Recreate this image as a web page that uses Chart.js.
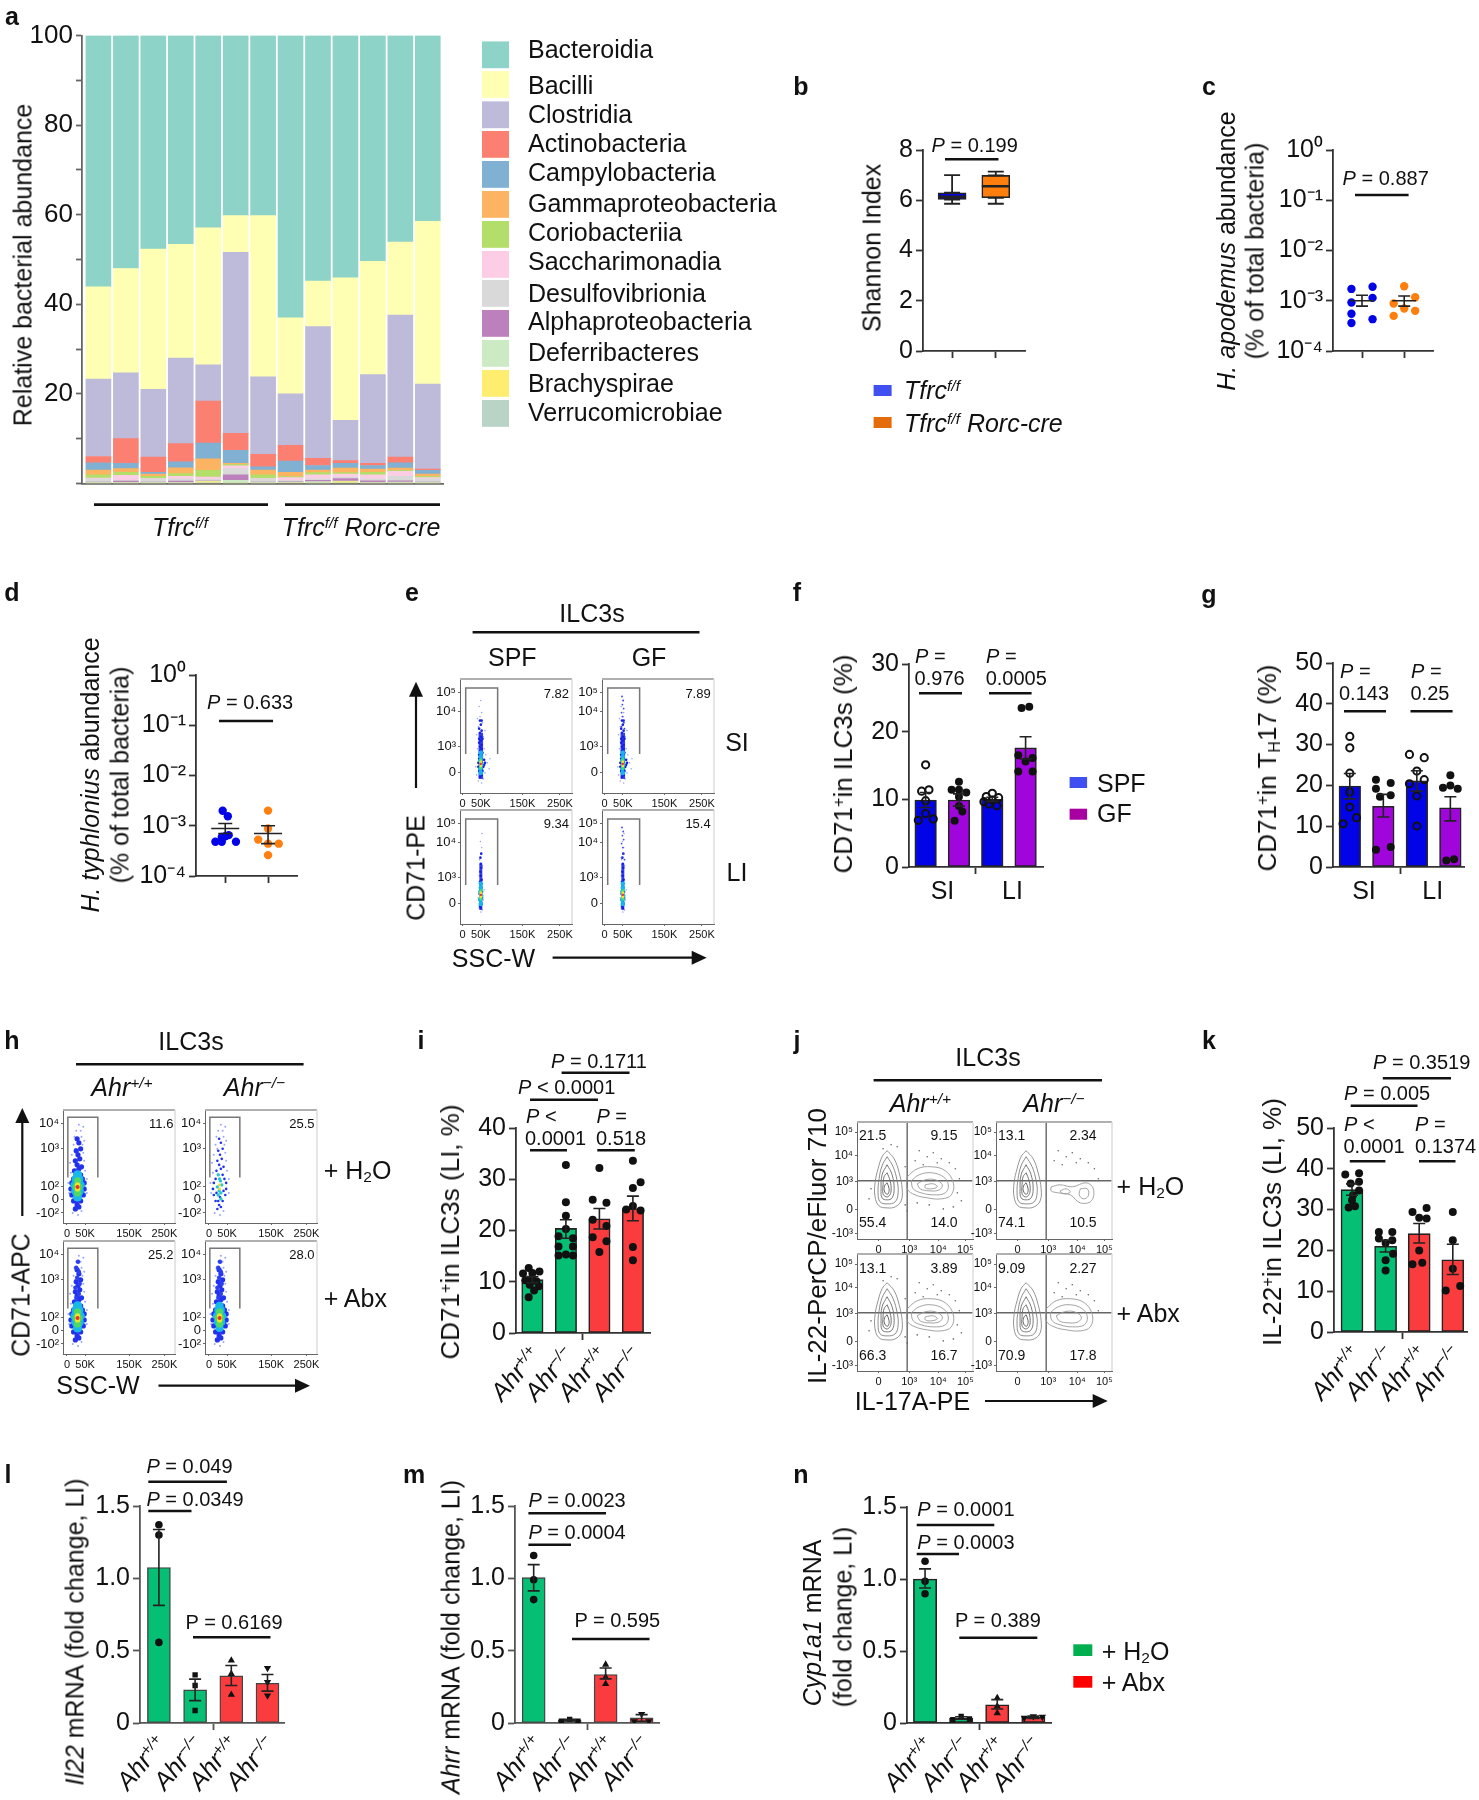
<!DOCTYPE html>
<html><head><meta charset="utf-8">
<script src="https://cdn.jsdelivr.net/npm/chart.js@4"></script>
<style>
html,body{margin:0;padding:0;background:#fff}
#stage{position:relative;width:1479px;height:1800px;overflow:hidden;font-family:"Liberation Sans",Arial,sans-serif;color:#111;filter:blur(.35px)}
#stage canvas{position:absolute}
#over{position:absolute;left:0;top:0}
.t{position:absolute;white-space:nowrap;line-height:1}
.t sup{font-size:.62em;line-height:0;vertical-align:baseline;position:relative;top:-.5em}
.t sub{font-size:.62em;line-height:0;vertical-align:baseline;position:relative;top:.22em}
</style></head><body><div id="stage"><svg id="over" width="1479" height="1800"></svg></div>
<script>
/* ---------- a: stacked relative abundance ---------- */
const aSamples=['1','2','3','4','5','6','7','8','9','10','11','12','13'];
const aClasses=['Bacteroidia','Bacilli','Clostridia','Actinobacteria','Campylobacteria','Gammaproteobacteria','Coriobacteriia','Saccharimonadia','Desulfovibrionia','Alphaproteobacteria','Deferribacteres','Brachyspirae','Verrucomicrobiae'];
const aColors=['#8dd3c7','#ffffb3','#bebada','#fb8072','#80b1d3','#fdb462','#b3de69','#fccde5','#d9d9d9','#bc80bd','#ccebc5','#ffed6f','#b9d4c7'];
const aBacteroidia=[56.1,52,47.7,46.6,42.9,40.2,40.2,63,54.8,54.1,50.4,46.1,41.5];
const aBacilli=[20.6,23.3,31.3,25.4,30.6,8.2,36,17,10.2,31.8,25.3,16.3,36.3];
const aClostridia=[17.3,14.7,15.1,19.1,8.1,40.4,17.3,11.5,29.4,9,19.8,31.7,19];
const aActino=[1.4,5.5,3.4,4.1,9.4,3.8,2.8,3.5,1.6,.6,.5,1.3,.3];
const aCampy=[1.6,1.2,.4,1.3,3.5,2.9,.7,2.5,1,1.1,.8,1.2,.8];
const aGamma=[1.1,.8,.5,1.3,2.6,.3,1.1,1,.6,1,.7,.5,.5];
const aCorio=[.7,.7,.5,.6,1.5,.3,.8,.2,.5,.3,.6,.2,.3];
const aSaccha=[.2,1.1,.1,.6,.5,.6,.1,.6,.9,.7,.9,1.1,.3];
const aDesulfo=[.7,.2,.7,.5,.3,1.4,.7,.3,.3,.3,.4,1,.7];
const aAlpha=[.1,.3,.1,.3,.1,1.2,.1,.1,.3,.6,.4,.3,.1];
const aDeferri=[.1,.1,.1,.1,.1,.6,.1,.1,.3,.1,.1,.2,.1];
const aBrachy=[0,0,0,0,.3,0,0,.1,0,.3,0,0,0];
const aVerruco=[.1,.1,.1,.1,.1,.1,.1,.1,.1,.1,.1,.1,.1];
const aTicks=[0,10,20,30,40,50,60,70,80,90,100];
/* ---------- b: box plot ---------- */
const bGroups=['Tfrc f/f','Tfrc f/f Rorc-cre'];
const bMin=[5.86,5.86],bQ1=[6.03,6.1],bMed=[6.14,6.56],bQ3=[6.3,6.99],bMax=[7.0,7.14];
const bTicks=[0,2,4,6,8];
/* ---------- c, d: log dot plots [jitter,value] ---------- */
const logTicks=[1e-4,1e-3,1e-2,1e-1,1];
const logLabels=['10⁻⁴','10⁻³','10⁻²','10⁻¹','10⁰'];
const cDots=[[[-.25,1.72e-3],[.25,1.9e-3],[-.25,9.2e-4],[.25,1.14e-3],[-.25,5.5e-4],[.25,4.3e-4],[-.25,3.6e-4]],
 [[0,1.95e-3],[.26,1.17e-3],[-.25,8.8e-4],[0,7e-4],[.26,6.3e-4],[-.25,5e-4]]];
const cMean=[1e-3,1e-3],cHi=[1.29e-3,1.24e-3],cLo=[7.8e-4,7.8e-4];
const dDots=[[[-.06,1.99e-3],[.06,1.55e-3],[.08,6.5e-4],[0,6.2e-4],[-.08,6e-4],[-.23,4.8e-4],[-.08,4.8e-4],[.25,4.8e-4]],
 [[0,2e-3],[0,8.8e-4],[-.23,5.3e-4],[.25,4.4e-4],[0,4.4e-4],[0,2.6e-4]]];
const dMean=[8.8e-4,7e-4],dHi=[1.11e-3,1.0e-3],dLo=[7e-4,4.4e-4];
/* ---------- bar panels ---------- */
const fCats=['SPF SI','GF SI','SPF LI','GF LI'];
const fMeans=[9.9,9.9,10,17.6],fHi=[11,10.8,10.3,19.25],fLo=[8.8,9,9.7,15.95],fTicks=[0,10,20,30];
const fDots=[[[0,15.1],[.1,11.4],[-.12,11.2],[0,9.8],[0,7.9],[-.22,6.9],[.23,7.1]],
 [[0,12.6],[-.22,11.4],[0,11.4],[.22,11],[0,10.4],[0,9],[.1,8.2],[-.13,6.85]],
 [[0,10.9],[-.18,10.4],[.19,10.25],[-.25,9.65],[0,9.9],[.14,9.05],[-.1,9.3]],
 [[-.12,23.5],[.11,23.7],[-.22,16.5],[.21,16.1],[0,15.6],[-.22,14.1],[.21,14.1]]];
const gMeans=[19.85,14.9,21.1,14.5],gHi=[22.9,17.8,23.6,17.2],gLo=[16.7,12.25,18.6,11.3],gTicks=[0,10,20,30,40,50];
const gDots=[[[0,32],[0,29.2],[0,23],[0,18.4],[0,14.7],[.2,12.1],[-.2,10.6]],
 [[-.22,21.4],[.22,20.6],[-.22,19.2],[.22,17.6],[-.1,17.2],[-.22,4.25],[.22,4.9]],
 [[-.22,27.6],[.22,26.8],[0,23.5],[-.22,20.4],[.22,21.4],[0,17.4],[0,10.05]],
 [[0,22.5],[-.22,19.4],[.22,19.2],[0,20],[-.12,1.6],[.11,1.9]]];
const ahrCats=['+/+','−/−','+/+','−/−'];
const iMeans=[10.4,20.4,22.3,24.3],iHi=[11,22.1,24.3,26.7],iLo=[9.8,18.5,20.3,21.9],iTicks=[0,10,20,30,40];
const iDots=[[[-.11,12.7],[.21,12],[-.28,11.6],[-.01,10.7],[-.21,10.3],[.12,10.1],[-.08,9.4],[.19,9.1],[.05,8.3],[-.11,7],[0,11.7]],
 [[0,32.8],[0,25.5],[0,22.9],[0,20.3],[-.22,18.9],[.21,18.5],[-.22,16.9],[.21,16.9],[-.22,15.1],[0,15.3],[.21,15.1]],
 [[0,32.2],[-.2,26],[.21,25.4],[-.2,22.1],[.21,20.9],[-.2,18.7],[.21,17.9],[0,15.8]],
 [[0,33.6],[.23,29.4],[0,28.3],[0,24.8],[-.2,24.1],[.23,23.9],[0,16.8],[0,14.2]]];
const kMeans=[34.9,21,24.1,17.7],kHi=[36.3,22.5,26.6,21.5],kLo=[33.5,19.6,21.8,14.1],kTicks=[0,10,20,30,40,50];
const kDots=[[[-.2,38.6],[.21,38.9],[.21,36.8],[-.04,36.4],[.21,34.7],[.03,33.5],[-.1,30.5],[.09,30.8],[0,32.3]],
 [[-.2,24.5],[.2,24.5],[-.2,22.9],[.2,22.5],[0,21.8],[.22,19.2],[0,17.6],[0,15.1]],
 [[-.2,29.4],[.22,30.4],[0,28],[.22,27.8],[0,20],[-.2,16.6],[.09,17]],
 [[0,29.4],[0,22.5],[0,15.5],[-.21,10.2],[.22,11.3]]];
const foldTicks=[0,.5,1,1.5],foldLabels=['0','0.5','1.0','1.5'];
const lMeans=[1.075,.229,.326,.275],lHi=[1.338,.303,.397,.335],lLo=[.813,.155,.259,.22];
const lDots=[[[0,1.37],[0,1.3],[0,.557]],[[0,.333],[0,.259],[0,.086]],[[0,.432],[0,.34],[0,.196]],[[0,.379],[0,.282],[0,.19]]];
const mMeans=[1.005,.02,.335,.035],mHi=[1.095,.025,.38,.058],mLo=[.913,.015,.305,.012];
const mDots=[[[0,1.158],[0,.99],[0,.853]],[[-.23,.012],[0,.025],[.23,.012]],[[0,.404],[0,.317],[0,.27]],[[0,.062],[-.2,.012],[.2,.012]]];
const nMeans=[1,.035,.127,.04],nHi=[1.07,.043,.162,.048],nLo=[.937,.027,.097,.032];
const nDots=[[[0,1.123],[0,.984],[0,.898]],[[-.23,.023],[0,.046],[.23,.028]],[[0,.174],[0,.116],[0,.069]],[[-.25,.035],[0,.046],[.25,.042]]];
/* ---------- e: flow plots ---------- */
const eXTicks=[6,50,150,240],eXLabels=['0','50K','150K','250K'];
const eYTicks=[20,46,81,100],eYLabels=['0','10³','10⁴','10⁵'];
const eGate=[[13.7,38.7],[13.7,104.4],[90.4,104.4],[90.4,38.7]];
const eSiFaint=[[44,12],[56,14],[52,10],[40,18],[60,20],[38,26],[70,24],[66,30],[72,34],[62,38],[58,44],[42,44],[46,52],[56,56],[40,58],[60,62],[44,66],[54,70],[48,76],[42,74],[52,80],[46,86],[50,92]];
const eSiBlue=[[48,16],[52,18],[50,20],[46,22],[54,22],[50,24],[56,26],[44,26],[58,28],[44,30],[60,30],[58,33],[46,34],[52,36],[46,38],[54,40],[48,42],[52,44],[48,46],[52,48],[46,50],[50,52],[54,54],[46,54],[50,56],[48,60],[52,62],[46,64],[50,68],[52,72],[48,72]];
const eLiFaint=[[50,12],[54,14],[46,16],[56,24],[44,26],[58,34],[54,40],[46,48],[54,58],[47,64],[52,76],[49,82],[53,90]];
const eLiBlue=[[50,16],[48,18],[52,20],[50,22],[47,24],[53,26],[50,28],[47,30],[53,32],[49,34],[51,36],[50,40],[48,42],[52,44],[50,48],[49,52],[51,56],[50,60],[49,66],[51,70]];
const eGfExtra=[[50,76],[47,80],[52,84],[49,88],[51,92],[48,96],[52,70],[47,66],[54,64]];
const eSpine=[[50,14],[50,60]];
const eCyan=[[50,20],[49,24],[51,28],[49,32],[50,36],[50,40]],eGreen=[[50,25],[50,29],[50,33]],eYellow=[[50,27],[50,31]],eRed=[[50,29]];
const ePcts=['7.82','7.89','9.34','15.4'];
/* ---------- h: flow plots ---------- */
const hXTicks=[9,50,150,230],hXLabels=['0','50K','150K','250K'];
const hYTicks=[10,23.7,36,74.7,99.7],hYLabels=['-10²','0','10²','10³','10⁴'];
const hGate=[[11,45.4],[11,105.4],[79,105.4],[79,45.4]];
const hFaint=[[22,10],[42,12],[34,8],[14,30],[54,30],[12,40],[54,44],[18,50],[50,52],[16,60],[48,62],[20,68],[46,70],[24,78],[44,78],[26,86],[42,86],[30,92],[40,92],[36,98],[46,96],[28,74],[48,82]];
const hBlue=[[28,14],[36,16],[32,18],[24,22],[40,22],[30,22],[20,28],[46,28],[34,26],[18,34],[48,34],[26,30],[42,32],[20,40],[48,40],[24,44],[44,44],[30,48],[40,48],[26,52],[36,54],[32,58],[42,56],[28,62],[38,64],[34,68],[30,72],[40,74],[36,80],[32,84]];
const hTall=[[30,56],[36,60],[28,66],[38,70],[32,76],[36,82],[30,86],[34,92]];
const hCyan=[[33,26],[29,32],[37,32],[27,38],[39,38],[30,44],[36,44],[33,48]],hGreen=[[33,30],[30,36],[36,36],[33,42]],hYellow=[[33,34],[33,38]],hRed=[[33,36]];
const hSpeck=[[30,28],[36,30],[28,36],[38,38],[33,44],[30,48],[36,24],[32,32],[35,42]];
const hPcts=['11.6','25.5','25.2','28.0'];
/* ---------- j: contour plots ---------- */
const jXTicks=[21.5,52,81,108],jXLabels=['0','10³','10⁴','10⁵'];
const jYTicks=[5.3,29.3,57.3,83.3,106.6],jYLabels=['-10³','0','10³','10⁴','10⁵'];
const jGateX=50,jGateY=58;
const ringA1=[[30,88],[37,80],[42,66],[45,50],[44,38],[38,32],[30,31],[22,33],[18,42],[18,56],[21,70],[25,82]];
const ringA2=[[30,82],[36,72],[40,58],[41,46],[38,37],[30,35],[23,37],[21,46],[22,60],[25,73]];
const ringA3=[[30,74],[35,64],[37,50],[35,41],[30,39],[25,41],[24,50],[25,64]];
const ringA4=[[30,66],[33,58],[34,48],[32,43],[29,42],[26,45],[26,54],[27,62]];
const ringA5=[[30,56],[32,50],[31,45],[29,45],[27,49],[28,54]];
const ringB1=[[50,62],[60,70],[74,72],[88,68],[96,56],[94,44],[84,40],[70,41],[58,44],[50,50]];
const ringB2=[[54,58],[62,64],[74,66],[86,62],[91,54],[88,46],[76,44],[64,46],[56,50]];
const ringB3=[[60,55],[68,59],[78,59],[85,54],[82,49],[72,48],[63,50]];
const ringB4=[[68,54],[76,55],[80,52],[74,50],[68,51]];
const ringS1=[[55,52],[64,54],[76,52],[90,56],[97,50],[95,38],[84,36],[74,44],[62,46],[55,48]];
const ringS2=[[64,48],[70,50],[74,47],[70,45],[65,46]];
const ringS3=[[84,50],[91,50],[92,43],[87,40],[83,44]];
const jSpecks=[[62,88],[70,82],[76,86],[84,80],[92,76],[98,70],[58,78],[66,74],[80,76],[102,60],[100,46],[104,38],[96,32],[86,30],[72,34],[60,36],[50,28],[40,92],[26,90],[34,94],[48,72],[14,50],[12,40],[48,34]];
const jPcts=[['21.5','9.15','55.4','14.0'],['13.1','2.34','74.1','10.5'],['13.1','3.89','66.3','16.7'],['9.09','2.27','70.9','17.8']];

/* ---------- helpers ---------- */
const stage=document.getElementById('stage'),svg=document.getElementById('over'),NS='http://www.w3.org/2000/svg';
Chart.defaults.font.family='"Liberation Sans",Arial,sans-serif';
Chart.defaults.color='#111';Chart.defaults.animation=false;
Chart.defaults.plugins.legend.display=false;Chart.defaults.plugins.tooltip.enabled=false;
Chart.register({id:'extras',afterDatasetsDraw(c){
  const g=c.ctx,x=c.scales.x,y=c.scales.y;
  (c.canvas._err||[]).forEach(e=>{
    const X=x.getPixelForValue(e.x);g.save();g.strokeStyle=e.color||'#222';g.lineWidth=e.lw||1.6;g.beginPath();
    const hi=y.getPixelForValue(e.hi),lo=y.getPixelForValue(e.lo);
    g.moveTo(X,hi);g.lineTo(X,lo);
    g.moveTo(X-e.cap,hi);g.lineTo(X+e.cap,hi);g.moveTo(X-e.cap,lo);g.lineTo(X+e.cap,lo);
    if(e.mean!==undefined){const m=y.getPixelForValue(e.mean);g.moveTo(X-e.mw,m);g.lineTo(X+e.mw,m);}
    g.stroke();g.restore();
  });
  if(c.canvas._frame){const a=c.chartArea;g.save();
    g.strokeStyle='#b0b0b0';g.lineWidth=2;g.beginPath();g.moveTo(a.left,a.top);g.lineTo(a.right,a.top);g.stroke();
    g.strokeStyle='#dcdcdc';g.lineWidth=1.5;g.beginPath();g.moveTo(a.right,a.top);g.lineTo(a.right,a.bottom);g.stroke();g.restore();}
}});
function T(h,x,y,o={}){const d=document.createElement('div');d.className='t';d.innerHTML=h;
  const s=o.s||25,a=o.a||'c';d.style.fontSize=s+'px';d.style.left=x+'px';d.style.top=y+'px';
  if(o.b)d.style.fontWeight='bold';if(o.i)d.style.fontStyle='italic';
  if(o.end){d.style.transformOrigin='100% 50%';d.style.transform=`translate(-100%,-50%) rotate(${o.rot}deg)`;}
  else{const tx=a=='c'?'-50%':a=='r'?'-100%':'0';d.style.transform=`translate(${tx},-50%)`+(o.rot?` rotate(${o.rot}deg)`:'');}
  stage.appendChild(d);return d;}
function L(x1,y1,x2,y2,w=2.4,c='#111'){const l=document.createElementNS(NS,'line');
  [['x1',x1],['y1',y1],['x2',x2],['y2',y2],['stroke',c],['stroke-width',w]].forEach(p=>l.setAttribute(p[0],p[1]));svg.appendChild(l);}
function R(x,y,w,h,c){const r=document.createElementNS(NS,'rect');
  [['x',x],['y',y],['width',w],['height',h],['fill',c]].forEach(p=>r.setAttribute(p[0],p[1]));svg.appendChild(r);}
function arrow(x1,y1,x2,y2){const dx=Math.sign(x2-x1),dy=Math.sign(y2-y1);L(x1,y1,x2-dx*8,y2-dy*8,2.2);
  const p=document.createElementNS(NS,'polygon');
  const pts=dx?[[x2,y2],[x2-dx*15,y2-7],[x2-dx*15,y2+7]]:[[x2,y2],[x2-7,y2-dy*15],[x2+7,y2-dy*15]];
  p.setAttribute('points',pts.map(q=>q.join(',')).join(' '));p.setAttribute('fill','#111');svg.appendChild(p);}
function P(v,x,y,o={}){T(`<i>P</i> ${v}`,x,y,{s:20,a:'l',...o});}
const xr=(c1,s,Lx,Rx)=>({min:1-(c1-Lx)/s,max:1+(Rx-c1)/s});
function mk(o){
  const ml=o.ml||56,mb=o.mb||18,mr=o.mr||4,mt=o.mt||18;
  const cv=document.createElement('canvas');const W=o.R-o.L+ml+mr,H=o.B-o.T+mt+mb;
  cv.width=Math.ceil(W);cv.height=Math.ceil(H);cv.style.left=(o.L-ml)+'px';cv.style.top=(o.T-mt)+'px';
  stage.appendChild(cv);cv._err=o.err||[];cv._frame=!!o.frame;
  const ax=o.axisColor||'#333',aw=o.axisWidth||1.8,tl=o.tl||7;
  const yOpts={type:o.log?'logarithmic':'linear',min:o.ymin,max:o.ymax,
    afterFit:s=>{s.width=ml},afterBuildTicks:s=>{s.ticks=o.yt.map(v=>({value:v}))},
    border:{color:ax,width:aw},grid:{drawOnChartArea:false,drawTicks:true,tickLength:tl,tickColor:ax,tickWidth:aw},
    ticks:{autoSkip:false,padding:o.ypad===undefined?3:o.ypad,color:'#111',font:{size:o.fs||25},callback:(v,i)=>o.yl?o.yl[i]:String(v)}};
  const xOpts={type:'linear',offset:false,min:o.xmin,max:o.xmax,
    afterFit:s=>{s.height=mb},afterBuildTicks:s=>{s.ticks=o.xt.map(v=>({value:v}))},
    border:{color:ax,width:aw},grid:{offset:false,drawOnChartArea:false,drawTicks:true,tickLength:o.xtl||tl,tickColor:ax,tickWidth:aw},
    ticks:{display:!!o.xl,autoSkip:false,maxRotation:0,minRotation:0,padding:o.xpad||2,color:'#111',font:{size:o.fsx||11},callback:(v,i)=>o.xl?o.xl[i]:''}};
  return new Chart(cv,{type:'bar',data:{datasets:o.ds},options:{responsive:false,devicePixelRatio:1,
    layout:{padding:{top:mt,right:mr,left:0,bottom:0}},scales:{x:xOpts,y:yOpts}}});
}
const pts=(a)=>a.map(p=>({x:p[0],y:p[1]}));
function barDs(v,colors,w,bc='#222',bw=1.6){return {type:'bar',order:3,grouped:false,data:v.map((y,i)=>({x:i+1,y})),backgroundColor:colors,borderColor:bc,borderWidth:bw,borderSkipped:false,barThickness:w};}
function dotDs(groups,st){return groups.map((g,i)=>{const s=st(i);return {type:'scatter',order:1,data:g.map(d=>({x:i+1+d[0],y:d[1]})),
  pointRadius:s.r,pointStyle:s.style||'circle',rotation:s.rot||0,pointRotation:s.rot||0,backgroundColor:s.fill,borderColor:s.line||s.fill,pointBorderWidth:s.bw||0,borderWidth:s.bw||0};});}
function errs(m,h,l,cap,mw){return m.map((_,i)=>({x:i+1,hi:h[i],lo:l[i],cap,mean:mw?m[i]:undefined,mw}));}
function scat(a,c,r){return {type:'scatter',order:1,data:pts(a),pointRadius:r,backgroundColor:c,borderWidth:0,pointBorderWidth:0};}
function path(a,c,w,t=0,close=false,fill=null){const d=pts(close?[...a,a[0]]:a);return {type:'line',order:0,data:d,borderColor:c,borderWidth:w,pointRadius:0,tension:t,fill:fill?true:false,backgroundColor:fill||'transparent'};}

const BLUE='#0303e8',ORG='#ff7f0e',PUR='#a005dc',GRN='#05bf75',RED='#fb3c3e';

/* ---------- panel letters ---------- */
[['a',12,16],['b',801,86],['c',1209,86],['d',12,592],['e',412,592],['f',797,592],['g',1209,594],['h',12,1040],['i',421,1040],['j',797,1040],['k',1209,1040],['l',8,1474],['m',414,1474],['n',801,1474]]
 .forEach(p=>T(p[0],p[1],p[2],{s:25,b:1}));

/* ---------- a ---------- */
{const series=[aVerruco,aBrachy,aDeferri,aAlpha,aDesulfo,aSaccha,aCorio,aGamma,aCampy,aActino,aClostridia,aBacilli,aBacteroidia];
 const ds=series.map((v,i)=>({type:'bar',stack:'s',label:aClasses[12-i],data:v.map((y,j)=>({x:j+1,y})),backgroundColor:aColors[12-i],borderWidth:0,barThickness:25}));
 const r=xr(98,27.4,81.6,442);
 const ch=mk({L:81.6,R:442,T:34.6,B:482.9,ml:56,ds,xmin:r.min,xmax:r.max,xt:[],ymin:0,ymax:100,yt:aTicks,yl:aTicks.map(v=>v&&v%20==0?String(v):''),axisColor:'#666',tl:6,fs:26});
 ch.options.scales.x.stacked=true;ch.options.scales.y.stacked=true;ch.update();
 T('Relative bacterial abundance',23,265,{s:25,rot:-90});
 const sw=[41.4,71,101.4,131,161,191,221,251,280,310,340,370,400],ty=[49,85,113.6,143,172,202.5,232,261,293,321,352,383,412];
 aClasses.forEach((n,i)=>{R(482,sw[i],27,26.8,aColors[i]);T(n,528,ty[i],{s:25,a:'l'});});
 L(94,504.6,268,504.6,2.6);L(285,504.6,440,504.6,2.6);
 T('Tfrc<sup>f/f</sup>',180,527,{s:25,i:1});T('Tfrc<sup>f/f</sup> Rorc-cre',361,527,{s:25,i:1});
}
/* ---------- b ---------- */
{const r=xr(951.6,43.4,922.7,1024);
 mk({L:922.7,R:1024,T:150,B:350.7,ds:[{type:'bar',order:3,grouped:false,data:bQ1.map((q,i)=>({x:i+1,y:[q,bQ3[i]]})),backgroundColor:[BLUE,ORG],borderColor:'#222',borderWidth:1.6,borderSkipped:false,barThickness:28}],
  xmin:r.min,xmax:r.max,xt:[1,2],ymin:0,ymax:8,yt:bTicks,
  err:bQ1.map((_,i)=>({x:i+1,hi:bMax[i],lo:bQ3[i],cap:8,lw:1.8})).concat(bQ1.map((q,i)=>({x:i+1,hi:q,lo:bMin[i],cap:8,lw:1.8}))).concat(bMed.map((m,i)=>({x:i+1,hi:m,lo:m,cap:14,lw:2.6})))});
 T('Shannon Index',872,248,{rot:-90});
 P('= 0.199',931.6,145);L(945,159.3,998.5,159.3);
 R(873.6,385,18,11,'#4050f0');R(873.6,417,18,11,'#e46c0a');
 T('Tfrc<sup>f/f</sup>',904,390,{s:25,a:'l',i:1});T('Tfrc<sup>f/f</sup> Rorc-cre',904,423,{s:25,a:'l',i:1});
}
/* ---------- c ---------- */
{const r=xr(1361.8,42.2,1332.8,1433.6);
 mk({L:1332.8,R:1433.6,T:150,B:350.7,ml:72,log:1,ds:dotDs(cDots,i=>({r:4.2,fill:[BLUE,ORG][i]})),xmin:r.min,xmax:r.max,xt:[1,2],ymin:1e-4,ymax:1,yt:logTicks,yl:logLabels,
  err:errs(cMean,cHi,cLo,6,12)});
 T('<i>H. apodemus</i> abundance',1226,251,{rot:-90});T('(% of total bacteria)',1255,251,{rot:-90});
 P('= 0.887',1342.6,178);L(1355,195,1408.6,195);
}
/* ---------- d ---------- */
{const r=xr(225.4,42.6,196.3,297.6);
 mk({L:196.3,R:297.6,T:675.3,B:875.7,ml:72,log:1,ds:dotDs(dDots,i=>({r:4.2,fill:[BLUE,ORG][i]})),xmin:r.min,xmax:r.max,xt:[1,2],ymin:1e-4,ymax:1,yt:logTicks,yl:logLabels,
  err:errs(dMean,dHi,dLo,7,14)});
 T('<i>H. typhlonius</i> abundance',90,775,{rot:-90});T('(% of total bacteria)',120,775,{rot:-90});
 P('= 0.633',207,701.7);L(219,721,273,721);
}
/* ---------- e ---------- */
{const plots=[[460,679.3,0],[601.7,679.3,1],[460,810,2],[601.7,810,3]];
 plots.forEach(([x,y,k])=>{const li=k>1;
  const ds=[scat(li?eLiFaint:eSiFaint,'#9aa4ff',.8),path(eSpine,'rgba(20,32,230,.85)',li?3:4.5)];
  ds[1].order=1;
  ds.push(scat(li?eLiBlue:eSiBlue,'#1420e6',1.3));
  if(k%2)ds.push(scat(eGfExtra,'#3a48f0',.9));
  ds.push(scat(eCyan,'#18b4f0',2.3),scat(eGreen,'#3ce070',1.8),scat(eYellow,'#f4e030',1.5),scat(eRed,'#f03020',1.2));
  ds.reverse();ds.unshift(path(eGate,'#777',1.5));
  const c=mk({L:x,R:x+112,T:y,B:y+113.4,ml:30,mb:18,mt:10,mr:6,frame:1,ds,xmin:0,xmax:269,xt:eXTicks,xl:eXLabels,ymin:0,ymax:113.4,yt:eYTicks,yl:eYLabels,fs:13,axisColor:'#666',axisWidth:1,tl:2,xtl:2,ypad:2,fsx:11});
  c.canvas.style.filter='blur(.5px)';
  T(ePcts[k],x+109,y+13.4,{s:13,a:'r'});});
 T('ILC3s',592,612.7);L(472.6,632.3,699.5,632.3);T('SPF',512.3,656.7);T('GF',649,656.7);
 T('SI',737,741.7);T('LI',737,871.7);
 T('CD71-PE',416,868,{rot:-90});arrow(416,788,416,681.7);T('SSC-W',493.5,957.7);arrow(552.6,957.7,706.7,957.7);
}
/* ---------- f ---------- */
const openDot={r:3.6,fill:'rgba(0,0,0,0)',line:'#111',bw:2};const solidDot={r:4,fill:'#111'};
{const r=xr(925.8,33.67,909,1044.4);
 mk({L:909,R:1044.4,T:664,B:867,ds:[barDs(fMeans,[BLUE,PUR,BLUE,PUR],21.6),...dotDs(fDots,i=>i%2?solidDot:openDot)],xmin:r.min,xmax:r.max,xt:[2.5],ymin:0,ymax:30,yt:fTicks,err:errs(fMeans,fHi,fLo,6)});
 T('CD71<sup>+</sup>in ILC3s (%)',843,764,{s:26,rot:-90});
 P('=',915,656);T('0.976',914.6,677.7,{s:20,a:'l'});P('=',986,656);T('0.0005',985.7,677.7,{s:20,a:'l'});
 L(919,693.3,962,693.3);L(989,693.3,1031.6,693.3);
 T('SI',942.5,889.7);T('LI',1012.5,889.7);
 R(1069.6,777,17.5,11,'#4050f0');R(1069.6,808.7,17.5,11,'#a800a0');T('SPF',1097,783,{a:'l'});T('GF',1097,812.7,{a:'l'});
}
/* ---------- g ---------- */
{const r=xr(1349.5,33.9,1332.5,1465);
 mk({L:1332.5,R:1465,T:662.7,B:866.7,ds:[barDs(gMeans,[BLUE,PUR,BLUE,PUR],21.6),...dotDs(gDots,i=>i%2?solidDot:openDot)],xmin:r.min,xmax:r.max,xt:[2.5],ymin:0,ymax:50,yt:gTicks,err:errs(gMeans,gHi,gLo,6)});
 T('CD71<sup>+</sup>in T<sub>H</sub>17 (%)',1267,768.3,{s:26,rot:-90});
 P('=',1340,671);T('0.143',1339,693.3,{s:20,a:'l'});P('=',1411,671);T('0.25',1410.5,693.3,{s:20,a:'l'});
 L(1344,711.3,1386,711.3);L(1410.5,711.3,1452.6,711.3);
 T('SI',1364,889.7);T('LI',1432.7,889.7);
}
/* ---------- h ---------- */
{const plots=[[63.4,1110,0],[204.5,1110,1],[63.4,1240.7,2],[204.5,1240.7,3]];
 plots.forEach(([x,y,k])=>{
  const ds=[scat(hFaint,'#9aa4ff',1),scat(hBlue,'#2232ee',k==1?1.3:2.6)];
  if(k>1)ds.push(scat(hTall,'#2a40f0',2.2));
  if(k==1){ds.push(scat(hSpeck,'#28c8d0',1.7),scat(hYellow,'#e8d830',1.4));}
  else{ds.push(scat(hCyan,'#18b8e8',k==3?4:4.6),scat(hGreen,'#50d860',3.6),scat(hYellow,'#f0e030',2.6),scat(hRed,'#f03020',2));}
  ds.reverse();ds.unshift(path(hGate,'#777',1.5));
  const c=mk({L:x,R:x+112,T:y,B:y+112.7,ml:34,mb:18,mt:10,mr:6,frame:1,ds,xmin:0,xmax:254,xt:hXTicks,xl:hXLabels,ymin:0,ymax:112.7,yt:hYTicks,yl:hYLabels,fs:13,axisColor:'#666',axisWidth:1,tl:2,xtl:2,ypad:2,fsx:11});
  c.canvas.style.filter='blur(.6px)';
  T(hPcts[k],x+110,y+13.3,{s:13,a:'r'});});
 T('ILC3s',191,1041);L(76,1064.3,303.6,1064.3);
 T('Ahr<sup>+/+</sup>',122,1086.7,{i:1});T('Ahr<sup>−/−</sup>',254.5,1086.7,{i:1});
 T('+ H<sub>2</sub>O',323.7,1170,{a:'l'});T('+ Abx',323.7,1297.7,{a:'l'});
 T('CD71-APC',21,1295,{rot:-90});arrow(22.3,1216,22.3,1108);T('SSC-W',98,1385);arrow(158.5,1385.7,310,1385.7);
}
/* ---------- i ---------- */
function ahrLabels(centers,axisY,s=25){centers.forEach((c,i)=>T(`Ahr<sup>${ahrCats[i]}</sup>`,c+3,axisY+17,{s,i:1,rot:-50,end:1}));}
{const r=xr(532,33.5,515.6,649.6);
 mk({L:515.6,R:649.6,T:1128.3,B:1333.3,ds:[barDs(iMeans,[GRN,GRN,RED,RED],21.4),...dotDs(iDots,()=>solidDot)],xmin:r.min,xmax:r.max,xt:[2.5],ymin:0,ymax:40,yt:iTicks,err:errs(iMeans,iHi,iLo,6)});
 T('CD71<sup>+</sup>in ILC3s (LI, %)',449.6,1232,{s:26,rot:-90});
 P('= 0.1711',551,1060.7);L(561.6,1072.7,629.5,1072.7);P('&lt; 0.0001',518,1087.3);L(530,1099.7,598,1099.7);
 P('&lt;',526,1116);T('0.0001',525,1137.7,{s:20,a:'l'});P('=',596.4,1116);T('0.518',596,1137.7,{s:20,a:'l'});
 L(530,1150.3,567,1150.3);L(597.3,1150.3,634.8,1150.3);
 ahrLabels([532,565.5,599,632.6],1333.3);
}
/* ---------- j ---------- */
{const plots=[[857,1121.7,0],[996,1121.7,1],[857,1254.3,2],[996,1254.3,3]];
 const slots=[[15.7,13.3],[87,13.3],[15.7,100.6],[87,100.6]];
 plots.forEach(([x,y,k])=>{
  const left=[path(ringA1,'#888',.9,.4,true),path(ringA2,'#808080',.9,.4,true),path(ringA3,'#787878',1,.4,true,'rgba(130,130,130,.12)'),path(ringA4,'#707070',1,.4,true,'rgba(120,120,120,.25)'),path(ringA5,'#666',1,.4,true,'rgba(110,110,110,.3)')];
  const right=(k==1?[ringS1,ringS2,ringS3]:(k==3?[ringB1,ringB2,ringB3]:[ringB1,ringB2,ringB3,ringB4])).map(r=>path(r,'#999',.9,.4,true));
  const ds=[...left,...right,scat(k%2?jSpecks.slice(0,10):jSpecks,'#666',.8),
    path([[jGateX,0],[jGateX,116.6]],'#666',1.4),path([[0,jGateY],[115.6,jGateY]],'#666',1.4)];
  const c=mk({L:x,R:x+115.6,T:y,B:y+116.6,ml:34,mb:20,mt:10,mr:6,frame:1,ds,xmin:0,xmax:115.6,xt:jXTicks,xl:jXLabels,ymin:0,ymax:116.6,yt:jYTicks,yl:jYLabels,fs:12,axisColor:'#666',axisWidth:1,tl:2,xtl:2,ypad:2,fsx:11});
  jPcts[k].forEach((v,n)=>T(v,x+slots[n][0],y+slots[n][1],{s:14}));});
 T('ILC3s',988,1056.7);L(873.6,1080.3,1102,1080.3);
 T('Ahr<sup>+/+</sup>',920.4,1103,{i:1});T('Ahr<sup>−/−</sup>',1054,1103,{i:1});
 T('+ H<sub>2</sub>O',1116.6,1185.7,{a:'l'});T('+ Abx',1116.6,1313.3,{a:'l'});
 T('IL-22-PerCP/eFluor 710',817,1245.7,{s:26,rot:-90});T('IL-17A-PE',912.4,1401);arrow(985,1401,1107.7,1401);
}
/* ---------- k ---------- */
{const r=xr(1352,33.6,1334,1467);
 mk({L:1334,R:1467,T:1127.7,B:1331.7,ds:[barDs(kMeans,[GRN,GRN,RED,RED],22),...dotDs(kDots,()=>solidDot)],xmin:r.min,xmax:r.max,xt:[2.5],ymin:0,ymax:50,yt:kTicks,err:errs(kMeans,kHi,kLo,6)});
 T('IL-22<sup>+</sup>in ILC3s (LI, %)',1272,1222,{s:26,rot:-90});
 P('= 0.3519',1373,1062.3);L(1382.8,1078.3,1451,1078.3);P('= 0.005',1344,1093.3);L(1350.7,1105.7,1417.5,1105.7);
 P('&lt;',1344,1124.3);T('0.0001',1343.5,1146,{s:20,a:'l'});P('=',1415,1124.3);T('0.1374',1415,1146,{s:20,a:'l'});
 L(1349.8,1161.3,1385.4,1161.3);L(1419,1161.3,1455.5,1161.3);
 ahrLabels([1352,1385.6,1419,1452.8],1331.7);
}
/* ---------- l, m, n ---------- */
const foldStyle=i=>[{r:3.8,fill:'#111'},{r:3.8,fill:'#111',style:'rect'},{r:4.2,fill:'#111',style:'triangle'},{r:4.2,fill:'#111',style:'triangle',rot:180}][i];
{const r=xr(158.4,36,139.6,283.6);
 mk({L:139.6,R:283.6,T:1506,B:1722.3,ds:[barDs(lMeans,[GRN,GRN,RED,RED],23,'#444',1.4),...dotDs(lDots,foldStyle)],xmin:r.min,xmax:r.max,xt:[2.5],ymin:0,ymax:1.5,yt:foldTicks,yl:foldLabels,err:errs(lMeans,lHi,lLo,6),axisColor:'#555'});
 T('<i>Il22</i> mRNA (fold change, LI)',75,1631.7,{s:25,rot:-90});
 P('= 0.049',146.4,1465.7);L(148.3,1481.7,226.9,1481.7);P('= 0.0349',146.4,1498.7);L(148.3,1511,191.5,1511);
 T('P = 0.6169',185.6,1621.7,{s:20,a:'l'});L(193,1637.3,270.5,1637.3);
 ahrLabels([158.4,194.6,230,266.6],1722.3);
}
{const r=xr(534,36,515.3,660.2);
 mk({L:515.3,R:660.2,T:1506,B:1722.3,ds:[barDs(mMeans,[GRN,GRN,RED,RED],23,'#444',1.4),...dotDs(mDots,foldStyle)],xmin:r.min,xmax:r.max,xt:[2.5],ymin:0,ymax:1.5,yt:foldTicks,yl:foldLabels,err:errs(mMeans,mHi,mLo,6),axisColor:'#555'});
 T('<i>Ahrr</i> mRNA (fold change, LI)',451,1637,{s:25,rot:-90});
 P('= 0.0023',528.4,1500);L(528.4,1513.3,606,1513.3);P('= 0.0004',528.4,1531.7);L(528.4,1544.7,571,1544.7);
 T('P = 0.595',574.4,1620,{s:20,a:'l'});L(572,1639,649.5,1639);
 ahrLabels([534,570,606.4,642.3],1722.3);
}
{const r=xr(925.3,36,907.3,1051.7);
 mk({L:907.3,R:1051.7,T:1507.3,B:1723.3,ds:[barDs(nMeans,[GRN,GRN,RED,RED],23.3),...dotDs(nDots,foldStyle)],xmin:r.min,xmax:r.max,xt:[2.5],ymin:0,ymax:1.5,yt:foldTicks,yl:foldLabels,err:errs(nMeans,nHi,nLo,6)});
 T('<i>Cyp1a1</i> mRNA',811.7,1623,{rot:-90,s:25});T('(fold change, LI)',843,1617,{rot:-90,s:25});
 P('= 0.0001',917.3,1509);L(916.7,1525,994.3,1525);P('= 0.0003',917.3,1541.7);L(916.7,1554,959,1554);
 T('P = 0.389',955,1620,{s:20,a:'l'});L(959.3,1637.7,1037.3,1637.7);
 R(1073.3,1644.3,19,11.7,'#00b050');R(1073.3,1676,19,11.7,'#ff0000');
 T('+ H<sub>2</sub>O',1101.7,1651,{a:'l'});T('+ Abx',1101.7,1682,{a:'l'});
 ahrLabels([925.3,961.7,997.3,1033.3],1723.3);
}
</script></body></html>
